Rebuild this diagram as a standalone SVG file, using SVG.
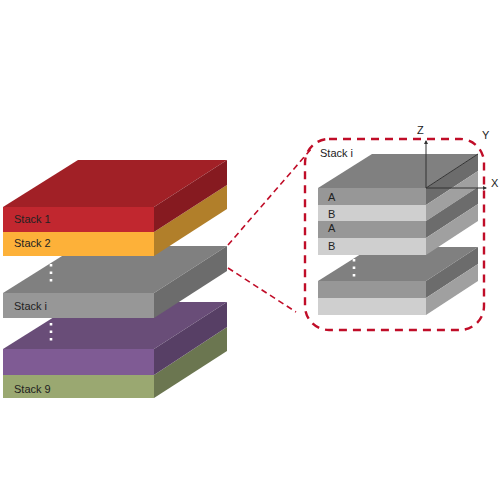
<svg xmlns="http://www.w3.org/2000/svg" width="500" height="500" viewBox="0 0 500 500">
<style>
text{font-family:"Liberation Sans",Arial,sans-serif;font-size:11px;fill:#222}
.d{fill:none;stroke:#c00d28;stroke-width:1.6;stroke-dasharray:6 4}
.b{fill:none;stroke:#c00d28;stroke-width:2.4;stroke-dasharray:8 6}
.dots{fill:none;stroke:#fff;stroke-width:2.6;stroke-dasharray:2.6 4.9}
.ax{stroke:#333;stroke-width:1;fill:none}
</style>
<defs><marker id="tip" markerWidth="4" markerHeight="4" refX="3" refY="2" orient="auto"><path d="M0 0L4 2L0 4Z" fill="#333"/></marker></defs>
<rect width="500" height="500" fill="#fff"/>
<g id="stack-9"><path d="M3 375H154V398H3Z" fill="#9aa871"/><path d="M154 375L227 327V351L154 398Z" fill="#6b7650"/><text x="14" y="393">Stack 9</text></g>
<g id="stack-8"><path d="M3 349L78 302H227L154 349Z" fill="#694d78"/><path d="M3 349H154V375H3Z" fill="#7f5b94"/><path d="M154 349L227 302V327L154 375Z" fill="#573f65"/></g>
<g id="stack-i"><path d="M3 293L78 246H227L154 293Z" fill="#808080"/><path d="M3 293H154V318H3Z" fill="#979797"/><path d="M154 293L227 246V271L154 318Z" fill="#6c6c6c"/><text x="14" y="310">Stack i</text></g>
<g id="stack-2"><path d="M3 232H154V256H3Z" fill="#fdb139"/><path d="M154 232L227 185V209L154 256Z" fill="#b17f2a"/><text x="14" y="247">Stack 2</text></g>
<g id="stack-1"><path d="M3 207L78 160H227L154 207Z" fill="#a12026"/><path d="M3 207H154V232H3Z" fill="#c1272f"/><path d="M154 207L227 160V185L154 232Z" fill="#861a20"/><text x="14" y="223">Stack 1</text></g>
<path class="dots" d="M51 264V282"/><path class="dots" d="M51 323V341"/>
<g id="detail-lower"><path d="M318 281L372 247H478L426 281Z" fill="#808080"/><path d="M318 281H426V298H318Z" fill="#979797"/><path d="M318 298H426V315H318Z" fill="#cfcfcf"/><path d="M426 281L478 247V264L426 298Z" fill="#6c6c6c"/><path d="M426 298L478 264V281L426 315Z" fill="#a0a0a0"/></g>
<g id="detail-upper"><path d="M318 188L372 154H478L426 188Z" fill="#808080"/><path d="M318 188H426V205H318Z" fill="#979797"/><path d="M318 205H426V221H318Z" fill="#cfcfcf"/><path d="M318 221H426V238H318Z" fill="#979797"/><path d="M318 238H426V255H318Z" fill="#cfcfcf"/><path d="M426 188L478 154V171L426 205Z" fill="#6c6c6c"/><path d="M426 205L478 171V187L426 221Z" fill="#a0a0a0"/><path d="M426 221L478 187V204L426 238Z" fill="#6c6c6c"/><path d="M426 238L478 204V221L426 255Z" fill="#a0a0a0"/><text x="328" y="201">A</text><text x="328" y="218">B</text><text x="328" y="232">A</text><text x="328" y="250">B</text></g>
<path class="dots" d="M354 259V277"/>
<g id="axes"><path class="ax" d="M426 188V141" marker-end="url(#tip)"/><path class="ax" d="M426 188H486" marker-end="url(#tip)"/><path class="ax" d="M426 188L478 154"/><text x="417" y="134">Z</text><text x="482" y="139">Y</text><text x="491" y="187">X</text></g>
<text x="320" y="157">Stack i</text>
<g id="connectors"><rect class="b" x="305" y="139" width="179" height="191" rx="24"/><path class="d" d="M228 245L312 148"/><path class="d" d="M228 268L296 312"/></g>
</svg>
